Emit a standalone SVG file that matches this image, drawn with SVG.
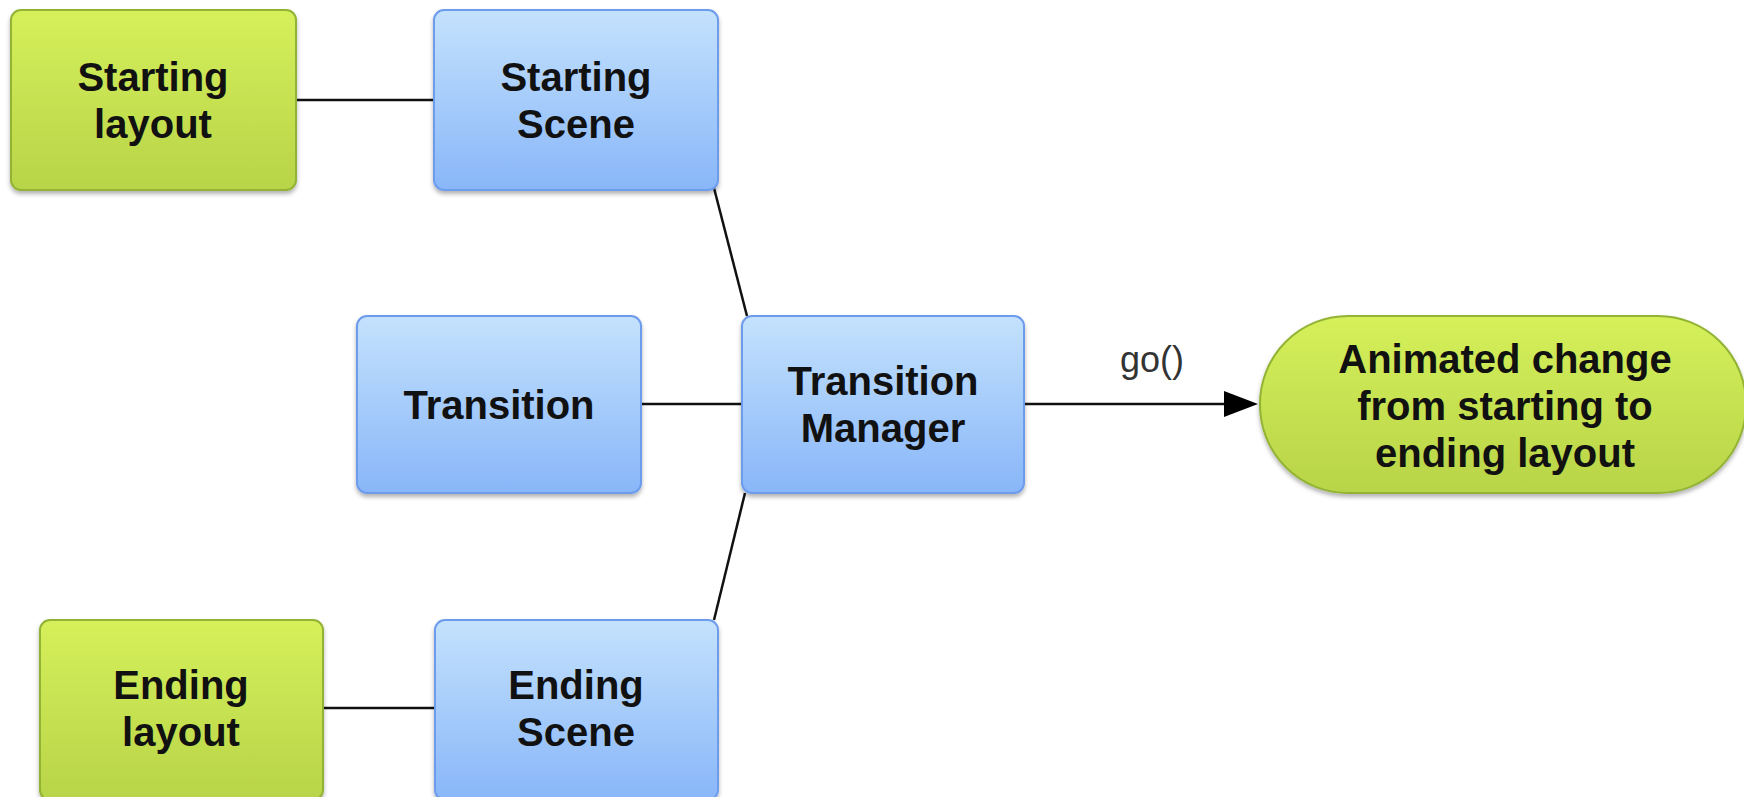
<svg xmlns="http://www.w3.org/2000/svg" width="1744" height="797" viewBox="0 0 1744 797">
<defs>
<linearGradient id="gGreen" x1="0" y1="0" x2="0" y2="1">
<stop offset="0" stop-color="#d5f05a"/>
<stop offset="1" stop-color="#b8d448"/>
</linearGradient>
<linearGradient id="gBlue" x1="0" y1="0" x2="0" y2="1">
<stop offset="0" stop-color="#c4e2fd"/>
<stop offset="1" stop-color="#88b6f8"/>
</linearGradient>
<filter id="sh" x="-5%" y="-5%" width="110%" height="115%">
<feDropShadow dx="0" dy="3" stdDeviation="2" flood-color="#000" flood-opacity="0.3"/>
</filter>
<marker id="arr" markerWidth="14" markerHeight="12" refX="13" refY="6" orient="auto" markerUnits="userSpaceOnUse" viewBox="0 0 14 12">
<path d="M0,0 L14,6 L0,12 Z" fill="#000"/>
</marker>
</defs>
<style>
.green{fill:url(#gGreen);stroke:#93b335;stroke-width:2;filter:url(#sh)}
.blue{fill:url(#gBlue);stroke:#6e9ced;stroke-width:2;filter:url(#sh)}
.lbl{font-family:"Liberation Sans",Arial,sans-serif;font-weight:bold;font-size:40px;fill:#111;text-anchor:middle}
.edge{stroke:#111;stroke-width:2.5;fill:none}
.elbl{font-family:"Liberation Sans",Arial,sans-serif;font-size:36px;fill:#333;text-anchor:middle}
</style>
<rect width="1744" height="797" fill="#fff"/>
<g id="connectors">
<line class="edge" x1="296" y1="100" x2="434" y2="100"/>
<line class="edge" x1="714" y1="188" x2="747" y2="316"/>
<line class="edge" x1="641" y1="404" x2="742" y2="404"/>
<line class="edge" x1="745" y1="493" x2="714" y2="620"/>
<line class="edge" x1="323" y1="708" x2="435" y2="708"/>
<path d="M1024,404 L1224,404" class="edge"/>
<path d="M1224,391 L1258,404 L1224,417 Z" fill="#000"/>
<text class="elbl" x="1152" y="372">go()</text>
</g>
<g id="starting-layout">
<rect class="green" x="11" y="10" width="285" height="180" rx="10"/>
<text class="lbl" x="153" y="91">Starting</text>
<text class="lbl" x="153" y="138">layout</text>
</g>
<g id="starting-scene">
<rect class="blue" x="434" y="10" width="284" height="180" rx="10"/>
<text class="lbl" x="576" y="91">Starting</text>
<text class="lbl" x="576" y="138">Scene</text>
</g>
<g id="transition">
<rect class="blue" x="357" y="316" width="284" height="177" rx="10"/>
<text class="lbl" x="499" y="419">Transition</text>
</g>
<g id="transition-manager">
<rect class="blue" x="742" y="316" width="282" height="177" rx="10"/>
<text class="lbl" x="883" y="395">Transition</text>
<text class="lbl" x="883" y="442">Manager</text>
</g>
<g id="animated-change">
<rect class="green" x="1260" y="316" width="486" height="177" rx="88" ry="88"/>
<text class="lbl" x="1505" y="373">Animated change</text>
<text class="lbl" x="1505" y="420">from starting to</text>
<text class="lbl" x="1505" y="467">ending layout</text>
</g>
<g id="ending-layout">
<rect class="green" x="40" y="620" width="283" height="180" rx="10"/>
<text class="lbl" x="181" y="699">Ending</text>
<text class="lbl" x="181" y="746">layout</text>
</g>
<g id="ending-scene">
<rect class="blue" x="435" y="620" width="283" height="180" rx="10"/>
<text class="lbl" x="576" y="699">Ending</text>
<text class="lbl" x="576" y="746">Scene</text>
</g>
</svg>
